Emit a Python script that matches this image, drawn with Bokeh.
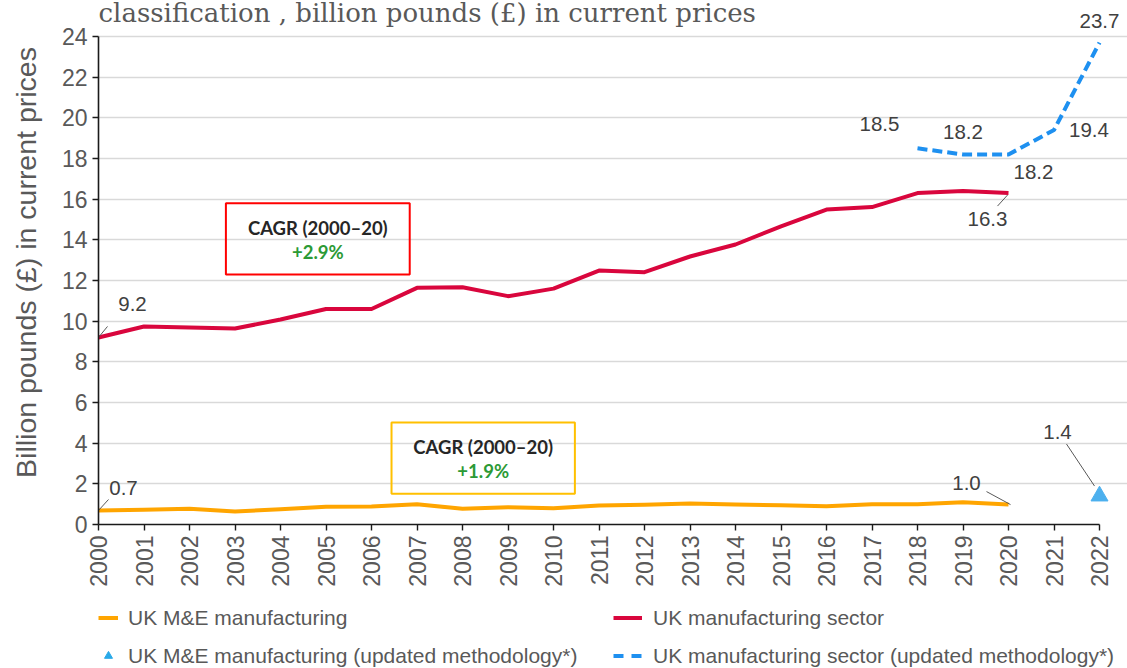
import math
from bokeh.plotting import figure
from bokeh.layouts import column
from bokeh.models import Range1d, FixedTicker, Label, BoxAnnotation, Legend, LegendItem
from bokeh.embed import file_html
from bokeh.resources import INLINE

# ---------------- data ----------------
years = list(range(2000, 2021))
me_manufacturing = [0.69, 0.72, 0.77, 0.64, 0.75, 0.87, 0.89, 1.00, 0.77, 0.85, 0.80,
                    0.93, 0.97, 1.03, 0.98, 0.95, 0.90, 1.00, 1.00, 1.10, 0.98]
uk_manufacturing = [9.2, 9.74, 9.69, 9.64, 10.08, 10.6, 10.6, 11.64, 11.67, 11.23, 11.6,
                    12.49, 12.41, 13.18, 13.77, 14.66, 15.49, 15.61, 16.3, 16.4, 16.3]
updated_years = [2018, 2019, 2020, 2021, 2022]
uk_manufacturing_updated = [18.5, 18.2, 18.2, 19.4, 23.7]
me_updated_years = [2022]
me_updated = [1.4]
x_ticks = list(range(2000, 2023))
y_ticks = list(range(0, 25, 2))
series_names = ["UK M&E manufacturing", "UK manufacturing sector",
                "UK M&E manufacturing (updated methodology*)",
                "UK manufacturing sector (updated methodology*)"]
cagr_title = "CAGR (2000\u201320)"
cagr_values = ["+2.9%", "+1.9%"]
title_text = "classification , billion pounds (\u00a3) in current prices"
y_label = "Billion pounds (\u00a3) in current prices"

# ---------------- style ----------------
ORANGE = "#FFA500"
RED = "#D9063D"
BLUE = "#1E90F0"
TRI = "#4DB0EE"
GREY = "#595959"
DARK = "#404040"
SANS = "Liberation Sans"
NAN = float("nan")

W, H = 1127, 600
LEG_H = 68
BL, BR, BT, BB = 98, 0, 0, 76
fw = W - BL - BR
fh = H - BT - BB
PXX = 45.5                       # px per year
PXY = 488 / 24                   # px per unit
X0 = 2000
X1 = X0 + fw / PXX
Y0 = 0
Y1 = fh / PXY

p = figure(width=W, height=H, x_range=Range1d(X0, X1), y_range=Range1d(Y0, Y1),
           output_backend="svg", toolbar_location=None,
           min_border_left=BL, min_border_right=BR, min_border_top=BT, min_border_bottom=BB)
p.title.visible = False
p.outline_line_color = None
p.background_fill_color = "white"

# axes
p.xaxis.ticker = FixedTicker(ticks=x_ticks)
p.yaxis.ticker = FixedTicker(ticks=y_ticks)
p.xaxis.bounds = (x_ticks[0], x_ticks[-1])
p.yaxis.bounds = (y_ticks[0], y_ticks[-1])
for ax in (p.xaxis, p.yaxis):
    ax.axis_line_color = "#1a1a1a"
    ax.axis_line_width = 1.6
    ax.major_tick_line_color = "#1a1a1a"
    ax.major_tick_line_width = 1.4
    ax.major_tick_out = 6
    ax.major_tick_in = 0
    ax.minor_tick_line_color = None
    ax.major_label_text_font = SANS
    ax.major_label_text_font_size = "23px"
    ax.major_label_text_color = GREY
    ax.major_label_standoff = 5
p.xaxis.major_label_orientation = math.pi / 2
p.yaxis.axis_label = y_label
p.yaxis.axis_label_text_font = SANS
p.yaxis.axis_label_text_font_size = "28.5px"
p.yaxis.axis_label_text_font_style = "normal"
p.yaxis.axis_label_text_color = GREY
p.yaxis.axis_label_standoff = 17

p.xgrid.grid_line_color = None
p.ygrid.grid_line_color = "#d9d9d9"
p.ygrid.grid_line_width = 1.4
p.ygrid.bounds = (x_ticks[0], x_ticks[-1])

# series
p.line(years, me_manufacturing, line_color=ORANGE, line_width=4, line_join="round")
p.line(years, uk_manufacturing, line_color=RED, line_width=4, line_join="round")
p.line(updated_years, uk_manufacturing_updated, line_color=BLUE, line_width=4, line_dash="10 5")
p.scatter(me_updated_years, me_updated, marker="triangle", size=17, fill_color=TRI, line_color=TRI)

# data labels (anchor point, pixel offset)
def data_label(x, y, dx, dy):
    p.add_layout(Label(x=x, y=y, x_offset=dx, y_offset=dy, text=f"{y:.1f}",
                       text_align="center", text_baseline="middle",
                       text_font=SANS, text_font_size="20.5px", text_color=DARK))

def leader(x, y, a, b):
    p.segment(x0=[x + a[0] / PXX], y0=[y + a[1] / PXY], x1=[x + b[0] / PXX], y1=[y + b[1] / PXY],
              line_color=GREY, line_width=1)

data_label(years[0], uk_manufacturing[0], 34, 33)
leader(years[0], uk_manufacturing[0], (0, 0), (9, 11))
data_label(years[0], me_manufacturing[0], 25, 22)
leader(years[0], me_manufacturing[0], (0, 0), (10, 11))
data_label(years[-1], me_manufacturing[-1], -42, 22)
leader(years[-1], me_manufacturing[-1], (2, 0), (-22, 13))
data_label(years[-1], uk_manufacturing[-1], -21, -26)
leader(years[-1], uk_manufacturing[-1], (-1, -2), (-11, -13))
data_label(me_updated_years[0], me_updated[0], -42, 64)
leader(me_updated_years[0], me_updated[0], (-5, 10), (-33, 52))
upd_offsets = [(-38, 24), (0, 22), (25, -18), (35, 0), (0, 22)]
for yr, v, (dx, dy) in zip(updated_years, uk_manufacturing_updated, upd_offsets):
    data_label(yr, v, dx, dy)

# CAGR boxes
boxes = [dict(l=2002.80, r=2006.84, b=12.3, t=15.8, color="#FF0000", val=cagr_values[0]),
         dict(l=2006.44, r=2010.47, b=1.51, t=5.02, color="#FFC000", val=cagr_values[1])]
for bx in boxes:
    p.add_layout(BoxAnnotation(left=bx["l"], right=bx["r"], bottom=bx["b"], top=bx["t"],
                               fill_color=None, fill_alpha=0, line_color=bx["color"],
                               line_width=2, line_alpha=1))
    cx = (bx["l"] + bx["r"]) / 2
    cy = (bx["b"] + bx["t"]) / 2
    p.add_layout(Label(x=cx, y=cy, y_offset=11, text=cagr_title, text_align="center",
                       text_baseline="middle", text_font="Lato", text_font_style="bold",
                       text_font_size="18.5px", text_color="#262626"))
    p.add_layout(Label(x=cx, y=cy, y_offset=-13, text=bx["val"], text_align="center",
                       text_baseline="middle", text_font="Lato", text_font_style="bold",
                       text_font_size="18.5px", text_color="#2c9a35"))

# cut-off chart title line
p.add_layout(Label(x=X0, y=y_ticks[-1], x_offset=0, y_offset=24, text=title_text,
                   text_align="left", text_baseline="alphabetic", text_font="DejaVu Serif",
                   text_font_size="26px", text_color=GREY))

# ---------------- legend strip ----------------
lp = figure(width=W, height=LEG_H, x_range=Range1d(0, W - BL), y_range=Range1d(0, LEG_H),
            output_backend="svg", toolbar_location=None,
            x_axis_location=None, y_axis_location=None,
            min_border_left=BL, min_border_right=0, min_border_top=0, min_border_bottom=0)
lp.title.visible = False
lp.outline_line_color = None
lp.grid.visible = False
g_me = lp.line([NAN], [NAN], line_color=ORANGE, line_width=4)
g_uk = lp.line([NAN], [NAN], line_color=RED, line_width=4)
g_me_upd = lp.scatter([NAN], [NAN], marker="triangle", size=14,
                      fill_color="#29A9E8", line_color="#29A9E8")
g_uk_upd = lp.line([NAN], [NAN], line_color=BLUE, line_width=4, line_dash="10 8")

def make_legend(items, loc, gw, standoff):
    lg = Legend(items=items, location=loc, orientation="vertical", padding=0, margin=0,
                spacing=13, glyph_width=gw, glyph_height=25, label_height=25,
                label_standoff=standoff, label_text_font=SANS, label_text_font_size="21px",
                label_text_color=GREY, border_line_color=None, background_fill_alpha=0)
    lp.add_layout(lg)

make_legend([LegendItem(label=series_names[0], renderers=[g_me]),
             LegendItem(label=series_names[2], renderers=[g_me_upd])], (0, 0), 20, 10)
make_legend([LegendItem(label=series_names[1], renderers=[g_uk]),
             LegendItem(label=series_names[3], renderers=[g_uk_upd])], (613 - BL, 0), 29, 11)

open("out.html", "w").write(file_html(column(p, lp, spacing=0), INLINE))
